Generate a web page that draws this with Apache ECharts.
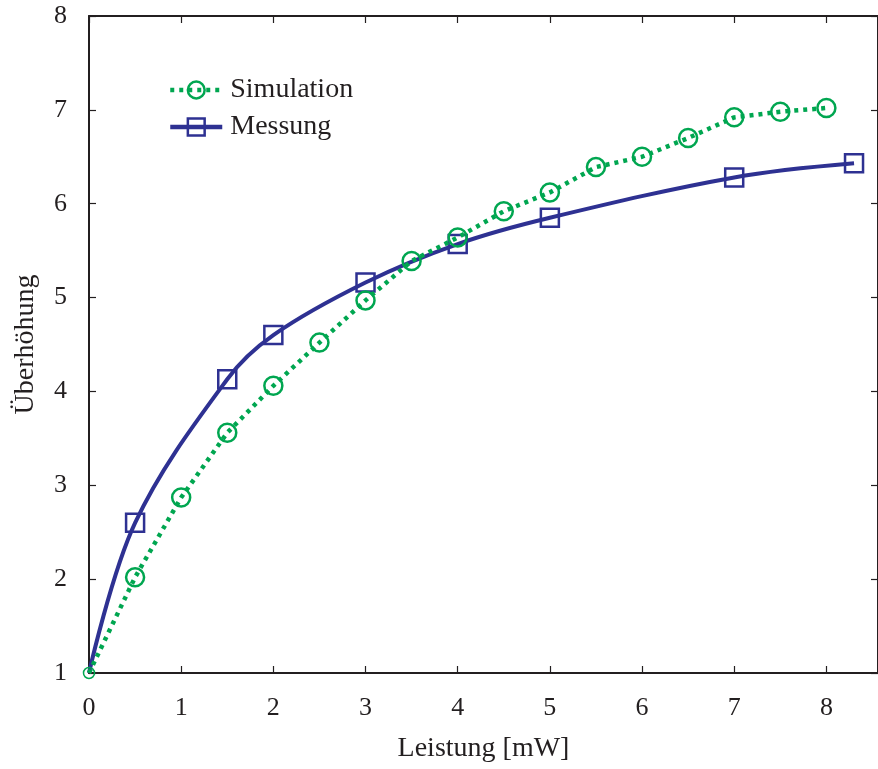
<!DOCTYPE html>
<html>
<head>
<meta charset="utf-8">
<script src="https://cdn.jsdelivr.net/npm/echarts@6/dist/echarts.min.js"></script>
<style>html,body{margin:0;padding:0;background:#fff}#c{width:878px;height:769px}</style>
</head>
<body>
<div id="c"></div>
<script>
const simX = [0, 0.5, 1, 1.5, 2, 2.5, 3, 3.5, 4, 4.5, 5, 5.5, 6, 6.5, 7, 7.5, 8];
const simY = [1.0, 2.02, 2.87, 3.56, 4.06, 4.52, 4.97, 5.39, 5.64, 5.92, 6.12, 6.39, 6.50, 6.70, 6.92, 6.98, 7.02];
const mesX = [0, 0.5, 1.5, 2, 3, 4, 5, 7, 8.3];
const mesY = [1.0, 2.60, 4.13, 4.60, 5.16, 5.57, 5.85, 6.28, 6.43];
const xTicks = [0, 1, 2, 3, 4, 5, 6, 7, 8];
const yTicks = [1, 2, 3, 4, 5, 6, 7, 8];

const GREEN = '#00a650';
const BLUE = '#2e3192';
const FONT = 'Liberation Serif';
const AX = '#231f20';

const simData = simX.map((x, i) => i === 0
  ? {value: [x, simY[i]], symbolSize: 11, itemStyle: {borderWidth: 1.5}}
  : [x, simY[i]]);
const mesData = mesX.map((x, i) => i === 0
  ? {value: [x, mesY[i]], symbol: 'none'}
  : [x, mesY[i]]);

const chart = echarts.init(document.getElementById('c'));
const baseAxis = {
  axisLine: {show: true, onZero: false, lineStyle: {color: AX, width: 2}},
  axisTick: {show: true, inside: true, length: 7, lineStyle: {color: AX, width: 1.2}},
  splitLine: {show: false}
};
chart.setOption({
  animation: false,
  backgroundColor: '#fff',
  textStyle: {fontFamily: FONT},
  grid: {left: 89, top: 16, width: 790, height: 657, containLabel: false},
  legend: {
    left: 163, top: 71, orient: 'vertical', itemWidth: 52, itemHeight: 21, itemGap: 9,
    lineStyle: {width: 4.5},
    itemStyle: {borderWidth: 2.5},
    textStyle: {fontFamily: FONT, fontSize: 28, color: AX, padding: [0, 0, 0, 3]},
    data: ['Simulation', 'Messung']
  },
  xAxis: [
    Object.assign({}, baseAxis, {
      type: 'value', min: 0, max: 8.56, interval: 1, position: 'bottom',
      name: 'Leistung [mW]', nameLocation: 'middle', nameGap: 62,
      nameTextStyle: {fontFamily: FONT, fontSize: 28, color: AX},
      axisLabel: {margin: 22, fontFamily: FONT, fontSize: 26, color: AX, showMaxLabel: false,
        formatter: v => xTicks.indexOf(v) >= 0 ? String(v) : ''}
    }),
    Object.assign({}, baseAxis, {
      type: 'value', min: 0, max: 8.56, interval: 1, position: 'top',
      axisLabel: {show: false}
    })
  ],
  yAxis: [
    Object.assign({}, baseAxis, {
      type: 'value', min: 1, max: 8, interval: 1, position: 'left',
      name: 'Überhöhung', nameLocation: 'middle', nameGap: 49,
      nameTextStyle: {fontFamily: FONT, fontSize: 28, color: AX},
      axisLabel: {margin: 22, fontFamily: FONT, fontSize: 26, color: AX,
        formatter: v => yTicks.indexOf(v) >= 0 ? String(v) : ''}
    }),
    Object.assign({}, baseAxis, {
      type: 'value', min: 1, max: 8, interval: 1, position: 'right',
      axisLabel: {show: false}
    })
  ],
  series: [
    {
      name: 'Simulation', type: 'line', xAxisIndex: 0, yAxisIndex: 0,
      data: simData,
      symbol: 'circle', symbolSize: 18,
      itemStyle: {color: 'rgba(255,255,255,0)', borderColor: GREEN, borderWidth: 2.5},
      lineStyle: {color: GREEN, width: 4.5, type: [4, 5]},
      z: 3
    },
    {
      name: 'Messung', type: 'line', xAxisIndex: 0, yAxisIndex: 0,
      data: mesData, smooth: 0.35,
      symbol: 'rect', symbolSize: 18,
      itemStyle: {color: 'rgba(255,255,255,0)', borderColor: BLUE, borderWidth: 2.5},
      lineStyle: {color: BLUE, width: 4},
      z: 2
    }
  ]
});
</script>
</body>
</html>
